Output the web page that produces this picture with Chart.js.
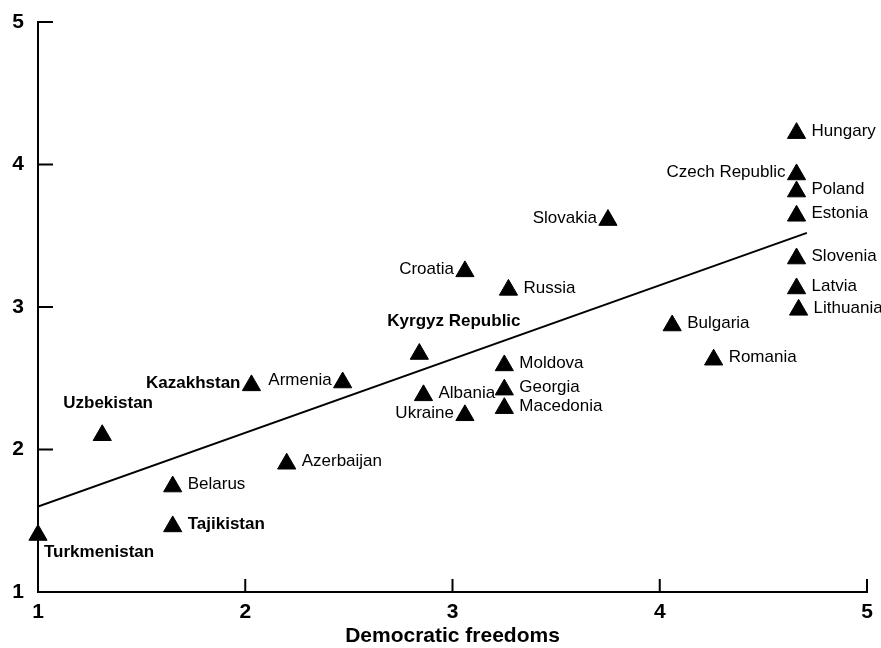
<!DOCTYPE html>
<html>
<head>
<meta charset="utf-8">
<script src="https://cdn.jsdelivr.net/npm/chart.js@4/dist/chart.umd.min.js"></script>
<style>
  html, body { margin: 0; padding: 0; background: #fff; }
  #wrap { width: 881px; height: 648px; }
</style>
</head>
<body>
<div id="wrap"><canvas id="chart" width="881" height="648"></canvas></div>
<script>
// Countries and their scores
const countries = ['Turkmenistan', 'Uzbekistan', 'Kazakhstan', 'Armenia', 'Belarus', 'Tajikistan',
    'Azerbaijan', 'Kyrgyz Republic', 'Albania', 'Ukraine', 'Moldova', 'Georgia', 'Macedonia',
    'Croatia', 'Russia', 'Slovakia', 'Bulgaria', 'Romania', 'Hungary', 'Czech Republic',
    'Poland', 'Estonia', 'Slovenia', 'Latvia', 'Lithuania'];
const freedoms = [1.00, 1.31, 2.03, 2.47, 1.65, 1.65, 2.20, 2.84, 2.86, 3.06, 3.25, 3.25, 3.25,
    3.06, 3.27, 3.75, 4.06, 4.26, 4.66, 4.66, 4.66, 4.66, 4.66, 4.66, 4.67];
const scores = [1.40, 2.10, 2.45, 2.47, 1.74, 1.46, 1.90, 2.67, 2.38, 2.24, 2.59, 2.42, 2.29,
    3.25, 3.12, 3.61, 2.87, 2.63, 4.22, 3.93, 3.81, 3.64, 3.34, 3.13, 2.98];
const boldNames = ['Turkmenistan', 'Uzbekistan', 'Kazakhstan', 'Kyrgyz Republic', 'Tajikistan'];

// Fitted line end points
const trendX = [1.0, 4.71];
const trendY = [1.60, 3.52];

const xTicks = [1, 2, 3, 4, 5];
const yTicks = [1, 2, 3, 4, 5];

// Where each label sits relative to its marker: [dx, dy, align]
const R = [15, -2, 'left'];
const L = [-11, -2, 'right'];
const labelPlace = {
    'Turkmenistan': [6, 17, 'left'],
    'Uzbekistan': [-39, -32, 'left'],
    'Kyrgyz Republic': [-32, -33, 'left'],
    'Kazakhstan': L, 'Armenia': L, 'Ukraine': L, 'Croatia': L,
    'Slovakia': L, 'Czech Republic': L
};

const points = countries.map((c, i) => ({ x: freedoms[i], y: scores[i], name: c }));
const trend = trendX.map((x, i) => ({ x: x, y: trendY[i] }));

const FONT = '"Liberation Sans", Arial, sans-serif';

const extras = {
    id: 'extras',
    afterDraw(chart) {
        const ctx = chart.ctx;
        const xs = chart.scales.x, ys = chart.scales.y;
        const area = chart.chartArea;
        ctx.save();
        // inward tick marks
        ctx.strokeStyle = '#000';
        ctx.lineWidth = 2;
        ctx.beginPath();
        xTicks.slice(1).forEach(v => {
            const px = xs.getPixelForValue(v);
            ctx.moveTo(px, area.bottom);
            ctx.lineTo(px, area.bottom - 13);
        });
        yTicks.slice(1).forEach(v => {
            const py = ys.getPixelForValue(v);
            ctx.moveTo(area.left, py);
            ctx.lineTo(area.left + 15, py);
        });
        ctx.stroke();

        // country labels
        const meta = chart.getDatasetMeta(1);
        ctx.fillStyle = '#000';
        ctx.textBaseline = 'middle';
        meta.data.forEach((el, i) => {
            const name = countries[i];
            const p = labelPlace[name] || R;
            ctx.font = (boldNames.includes(name) ? 'bold ' : '') + '17px ' + FONT;
            ctx.textAlign = p[2];
            ctx.fillText(name, el.x + p[0], el.y + p[1]);
        });
        ctx.restore();
    }
};

new Chart(document.getElementById('chart'), {
    type: 'scatter',
    data: {
        datasets: [
            {
                type: 'line',
                data: trend,
                borderColor: '#000',
                borderWidth: 2,
                pointRadius: 0,
                fill: false
            },
            {
                data: points,
                pointStyle: 'triangle',
                pointRadius: 10.5,
                backgroundColor: '#000',
                borderColor: '#000',
                borderWidth: 1,
                clip: false
            }
        ]
    },
    options: {
        responsive: false,
        animation: false,
        layout: { padding: { top: 22, right: 14, left: 0, bottom: 0 } },
        plugins: {
            legend: { display: false },
            tooltip: { enabled: false }
        },
        scales: {
            x: {
                type: 'linear',
                min: 1,
                max: 5,
                afterFit(scale) {
                    scale.height = 56;
                    scale.paddingLeft = 0;
                    scale.paddingRight = 0;
                },
                afterBuildTicks(scale) { scale.ticks = xTicks.map(v => ({ value: v })); },
                grid: { drawOnChartArea: false, drawTicks: false },
                border: { color: '#000', width: 2 },
                ticks: {
                    color: '#000',
                    padding: 8,
                    font: { family: FONT, size: 21, weight: 'bold' }
                },
                title: {
                    display: true,
                    text: 'Democratic freedoms',
                    color: '#000',
                    padding: { top: 0, bottom: -1 },
                    font: { family: FONT, size: 21, weight: 'bold' }
                }
            },
            y: {
                type: 'linear',
                min: 1,
                max: 5,
                afterFit(scale) {
                    scale.width = 38;
                    scale.paddingTop = 0;
                    scale.paddingBottom = 0;
                },
                afterBuildTicks(scale) { scale.ticks = yTicks.map(v => ({ value: v })); },
                grid: { drawOnChartArea: false, drawTicks: false },
                border: { color: '#000', width: 2 },
                ticks: {
                    color: '#000',
                    padding: 14,
                    font: { family: FONT, size: 21, weight: 'bold' }
                }
            }
        }
    },
    plugins: [extras]
});
</script>
</body>
</html>
